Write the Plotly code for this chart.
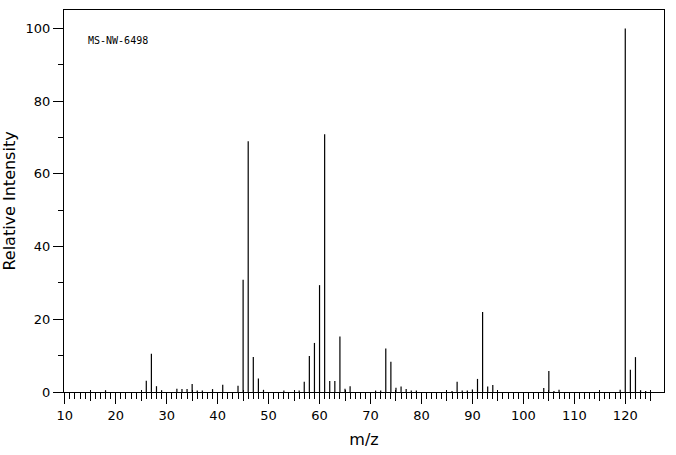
import plotly.graph_objects as go

mz = [18, 26, 27, 28, 29, 32, 33, 34, 35, 36, 37, 39, 41, 44, 45, 46, 47, 48, 49,
      53, 56, 57, 58, 59, 60, 61, 62, 63, 64, 65, 66, 71, 72, 73, 74, 75, 76, 77,
      78, 79, 86, 87, 88, 89, 90, 91, 92, 93, 94, 104, 105, 106, 107, 119, 120,
      121, 122, 123, 124]
intensity = [0.5, 3.1, 10.5, 1.6, 0.5, 0.9, 0.8, 0.8, 2.2, 0.4, 0.4, 0.8, 2.0, 1.7,
             30.9, 69.0, 9.6, 3.7, 0.6, 0.4, 0.4, 2.8, 9.9, 13.5, 29.4, 70.9, 3.0,
             3.0, 15.3, 0.9, 1.6, 0.4, 0.4, 12.0, 8.3, 1.2, 1.5, 0.8, 0.4, 0.4, 0.3,
             2.8, 0.4, 0.4, 0.7, 3.6, 22.0, 1.5, 1.9, 1.1, 5.8, 0.3, 0.6, 0.6, 100.0,
             6.1, 9.6, 0.5, 0.3]

x_major = list(range(10, 121, 10))
x_minor = [v for v in range(10, 126) if v % 10 != 0]
x_medium = list(range(15, 126, 10))
y_major = [0, 20, 40, 60, 80, 100]
y_minor = [10, 30, 50, 70, 90]
spectrum_id = "MS-NW-6498"

XR = [9.85, 127.6]
YR = [0, 105.1]

# stick spectrum built from the data arrays
xs, ys = [], []
for m, v in zip(mz, intensity):
    xs += [m, m, None]
    ys += [0, v, None]

fig = go.Figure()
fig.add_trace(go.Scatter(x=xs, y=ys, mode="lines",
                         line=dict(color="black", width=1.2),
                         hoverinfo="skip", showlegend=False))
fig.add_trace(go.Scatter(x=[], y=[], xaxis="x2", showlegend=False, hoverinfo="skip"))
fig.add_trace(go.Scatter(x=[], y=[], xaxis="x3", showlegend=False, hoverinfo="skip"))

font = "DejaVu Sans"
fig.update_layout(
    width=676, height=455,
    margin=dict(l=63, r=12, t=9, b=62),
    paper_bgcolor="white", plot_bgcolor="white",
    font=dict(family=font, size=13, color="black"),
    showlegend=False,
    xaxis=dict(
        range=XR, tickmode="array", tickvals=x_major,
        ticks="outside", ticklen=11, tickwidth=1, tickcolor="black",
        showgrid=False, zeroline=False,
        showline=True, linecolor="black", linewidth=1, mirror=True,
        minor=dict(tickmode="array", tickvals=x_minor, ticks="outside",
                   ticklen=6, tickwidth=1, tickcolor="black", showgrid=False),
        tickfont=dict(family=font, size=13, color="black"),
        ticklabelstandoff=0,
        title=dict(text="m/z", font=dict(family=font, size=16, color="black"),
                   standoff=12),
    ),
    xaxis2=dict(
        range=XR, overlaying="x", anchor="y", side="bottom",
        tickmode="array", tickvals=x_medium, ticks="outside", ticklen=8,
        tickwidth=1, tickcolor="black", showticklabels=False,
        showgrid=False, zeroline=False, showline=False,
    ),
    xaxis3=dict(
        range=XR, overlaying="x", anchor="y", side="bottom",
        tickmode="array", tickvals=x_medium, ticks="inside", ticklen=2,
        tickwidth=1, tickcolor="black", showticklabels=False,
        showgrid=False, zeroline=False, showline=False,
    ),
    yaxis=dict(
        range=YR, tickmode="array", tickvals=y_major,
        ticks="outside", ticklen=10, tickwidth=1, tickcolor="black",
        showgrid=False, zeroline=False,
        showline=True, linecolor="black", linewidth=1, mirror=True,
        minor=dict(tickmode="array", tickvals=y_minor, ticks="outside",
                   ticklen=5, tickwidth=1, tickcolor="black", showgrid=False),
        tickfont=dict(family=font, size=13, color="black"),
        title=dict(text="Relative Intensity",
                   font=dict(family=font, size=16, color="black"), standoff=5),
    ),
    annotations=[dict(text=spectrum_id, xref="paper", yref="paper",
                      x=0.036, y=0.92, xanchor="left", yanchor="middle",
                      showarrow=False,
                      font=dict(family="DejaVu Sans Mono", size=10, color="black"))],
)

fig.write_html("out.html")
